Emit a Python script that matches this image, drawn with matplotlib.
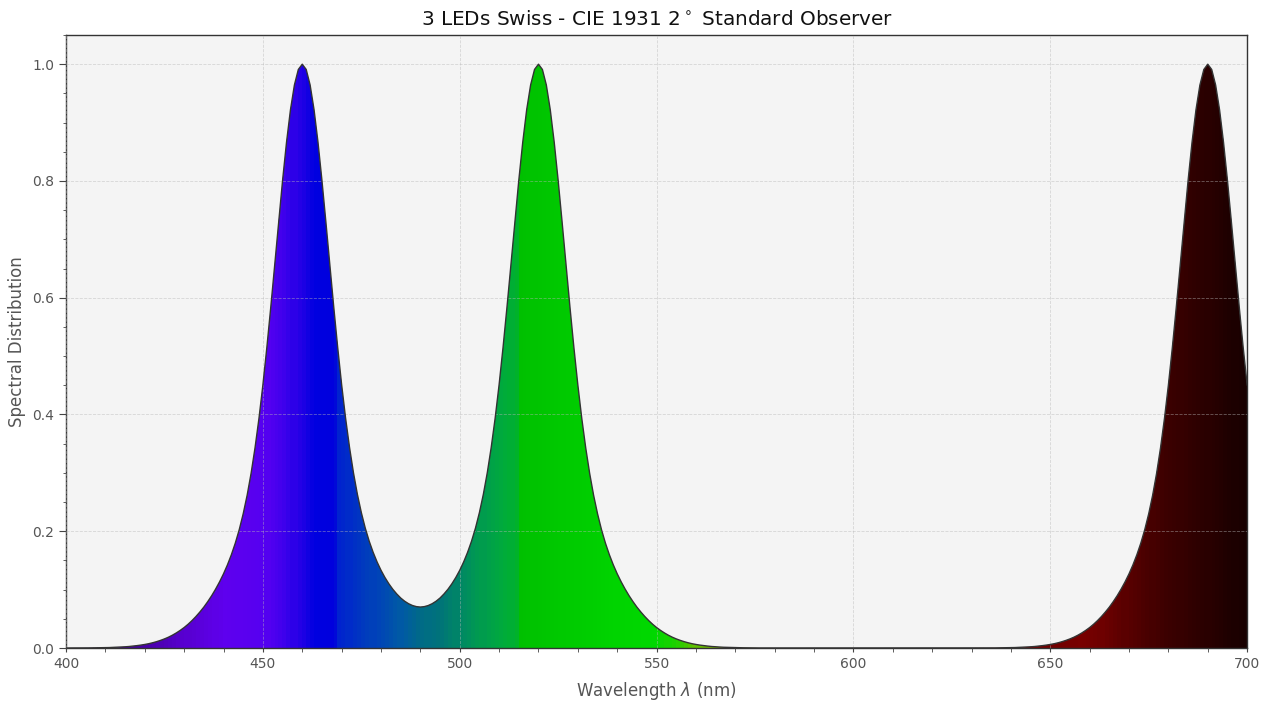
import numpy as np
import matplotlib
matplotlib.use("Agg")
import matplotlib.pyplot as plt
from matplotlib.colors import LinearSegmentedColormap
from matplotlib.patches import Polygon
from matplotlib.ticker import MultipleLocator

# Spectral distribution (1 nm steps, 400 - 700 nm)
wavelengths = np.arange(400, 701, 1)
spectral_values = [
    0.0000, 0.0001, 0.0001, 0.0001, 0.0001, 0.0002, 0.0002, 0.0003, 0.0004, 0.0005,
    0.0006, 0.0008, 0.0011, 0.0013, 0.0017, 0.0021, 0.0026, 0.0033, 0.0041, 0.0050,
    0.0061, 0.0074, 0.0090, 0.0109, 0.0131, 0.0156, 0.0185, 0.0219, 0.0258, 0.0302,
    0.0351, 0.0407, 0.0470, 0.0540, 0.0617, 0.0701, 0.0795, 0.0897, 0.1010, 0.1134,
    0.1271, 0.1425, 0.1599, 0.1798, 0.2029, 0.2300, 0.2617, 0.2991, 0.3428, 0.3932,
    0.4506, 0.5144, 0.5836, 0.6562, 0.7297, 0.8009, 0.8661, 0.9217, 0.9642, 0.9909,
    1.0000, 0.9910, 0.9643, 0.9218, 0.8662, 0.8011, 0.7299, 0.6565, 0.5840, 0.5149,
    0.4512, 0.3940, 0.3439, 0.3004, 0.2634, 0.2321, 0.2055, 0.1831, 0.1640, 0.1475,
    0.1332, 0.1208, 0.1100, 0.1006, 0.0926, 0.0857, 0.0802, 0.0759, 0.0728, 0.0709,
    0.0702, 0.0709, 0.0728, 0.0759, 0.0802, 0.0857, 0.0926, 0.1006, 0.1100, 0.1208,
    0.1332, 0.1475, 0.1640, 0.1831, 0.2055, 0.2321, 0.2634, 0.3004, 0.3439, 0.3940,
    0.4512, 0.5149, 0.5840, 0.6565, 0.7299, 0.8011, 0.8662, 0.9218, 0.9643, 0.9910,
    1.0000, 0.9909, 0.9642, 0.9217, 0.8661, 0.8009, 0.7297, 0.6562, 0.5836, 0.5144,
    0.4506, 0.3932, 0.3428, 0.2991, 0.2617, 0.2300, 0.2029, 0.1798, 0.1599, 0.1425,
    0.1271, 0.1134, 0.1010, 0.0897, 0.0795, 0.0701, 0.0617, 0.0540, 0.0470, 0.0407,
    0.0351, 0.0302, 0.0258, 0.0219, 0.0185, 0.0156, 0.0131, 0.0109, 0.0090, 0.0074,
    0.0061, 0.0050, 0.0041, 0.0033, 0.0026, 0.0021, 0.0017, 0.0013, 0.0011, 0.0008,
    0.0006, 0.0005, 0.0004, 0.0003, 0.0002, 0.0002, 0.0001, 0.0001, 0.0001, 0.0001,
    0.0000, 0.0000, 0.0000, 0.0000, 0.0000, 0.0000, 0.0000, 0.0000, 0.0000, 0.0000,
    0.0000, 0.0000, 0.0000, 0.0000, 0.0000, 0.0000, 0.0000, 0.0000, 0.0000, 0.0000,
    0.0000, 0.0000, 0.0000, 0.0000, 0.0000, 0.0000, 0.0000, 0.0000, 0.0000, 0.0000,
    0.0000, 0.0000, 0.0000, 0.0000, 0.0000, 0.0000, 0.0000, 0.0000, 0.0000, 0.0000,
    0.0000, 0.0000, 0.0000, 0.0000, 0.0000, 0.0000, 0.0000, 0.0000, 0.0000, 0.0000,
    0.0000, 0.0001, 0.0001, 0.0001, 0.0001, 0.0002, 0.0002, 0.0003, 0.0004, 0.0005,
    0.0006, 0.0008, 0.0011, 0.0013, 0.0017, 0.0021, 0.0026, 0.0033, 0.0041, 0.0050,
    0.0061, 0.0074, 0.0090, 0.0109, 0.0131, 0.0156, 0.0185, 0.0219, 0.0258, 0.0302,
    0.0351, 0.0407, 0.0470, 0.0540, 0.0617, 0.0701, 0.0795, 0.0897, 0.1010, 0.1134,
    0.1271, 0.1425, 0.1599, 0.1798, 0.2029, 0.2300, 0.2617, 0.2991, 0.3428, 0.3932,
    0.4506, 0.5144, 0.5836, 0.6562, 0.7297, 0.8009, 0.8661, 0.9217, 0.9642, 0.9909,
    1.0000, 0.9909, 0.9642, 0.9217, 0.8661, 0.8009, 0.7297, 0.6562, 0.5836, 0.5144,
    0.4506,
]

# Colours of the wavelength bands as seen under the curve
stop_nm = [400, 410, 420, 430, 440, 450, 455, 460, 463, 468, 469, 475, 480, 485,
           490, 495, 500, 505, 510, 514, 515, 520, 530, 540, 550, 555, 560, 570,
           580, 600, 620, 640, 650, 658, 663, 670, 680, 690, 700]
stop_hex = ["#300070", "#3c0090", "#4800a8", "#5800d0", "#5e00ee", "#5600f0",
            "#4000ec", "#1c00e4", "#0000e0", "#0000dc", "#0020d0", "#0038c0",
            "#0048b4", "#005aa4", "#006a88", "#007478", "#008864", "#009a50",
            "#00a840", "#00b030", "#00c000", "#00c400", "#00cc00", "#00d400",
            "#00d800", "#20d000", "#60c000", "#90b000", "#c0a000", "#e06000",
            "#c03000", "#800000", "#700000", "#780000", "#700000", "#580000",
            "#3c0000", "#2a0000", "#180000"]

title = "3 LEDs Swiss - CIE 1931 2$^\\circ$ Standard Observer"

plt.rcParams['font.family'] = ['DejaVu Sans']

fig = plt.figure(figsize=(12.7, 7.1), dpi=100)
ax = fig.add_axes([0.052, 0.0873, 0.930, 0.8634])
ax.set_facecolor('#f4f4f4')

lo, hi = stop_nm[0], stop_nm[-1]
cmap = LinearSegmentedColormap.from_list(
    'spectrum', [((n - lo) / (hi - lo), c) for n, c in zip(stop_nm, stop_hex)])

# polygon under the curve, used to clip the coloured bands
verts = np.vstack([[wavelengths[0], 0],
                   np.column_stack([wavelengths, spectral_values]),
                   [wavelengths[-1], 0]])
poly = Polygon(verts, facecolor='none', edgecolor='none')
ax.add_patch(poly)

bands = np.arange(400, 700, 1)
band_colours = cmap((bands + 0.5 - lo) / (hi - lo))
ax.bar(bands - 0.05, max(spectral_values), width=1.1, color=band_colours,
       align='edge', clip_path=poly, linewidth=0, antialiased=False, zorder=1)

ax.plot(wavelengths, spectral_values, color='#333333', linewidth=1.0, zorder=3)

ax.set_xlim(400, 700)
ax.set_ylim(0, 1.05)
ax.xaxis.set_major_locator(MultipleLocator(50))
ax.xaxis.set_minor_locator(MultipleLocator(10))
ax.yaxis.set_major_locator(MultipleLocator(0.2))
ax.yaxis.set_minor_locator(MultipleLocator(0.05))

ax.grid(True, which='major', linestyle='--', linewidth=0.6,
        color='#b8b8b8', alpha=0.5, zorder=2)
ax.set_axisbelow(False)

for s in ax.spines.values():
    s.set_color('#333333')
    s.set_linewidth(1.0)

ax.tick_params(axis='both', which='both', direction='out', colors='#444444',
               labelcolor='#555555', labelsize=10)
ax.tick_params(axis='x', which='both', length=3)
ax.tick_params(axis='y', which='major', length=5)
ax.tick_params(axis='y', which='minor', length=2.5)

ax.set_xlabel('Wavelength $\\lambda$ (nm)', fontsize=12, color='#555555', labelpad=6.5)
ax.set_ylabel('Spectral Distribution', fontsize=12, color='#555555', labelpad=4.5)
ax.set_title(title, fontsize=14.4, color='#111111', pad=7)

fig.savefig('out.png', dpi=100)
